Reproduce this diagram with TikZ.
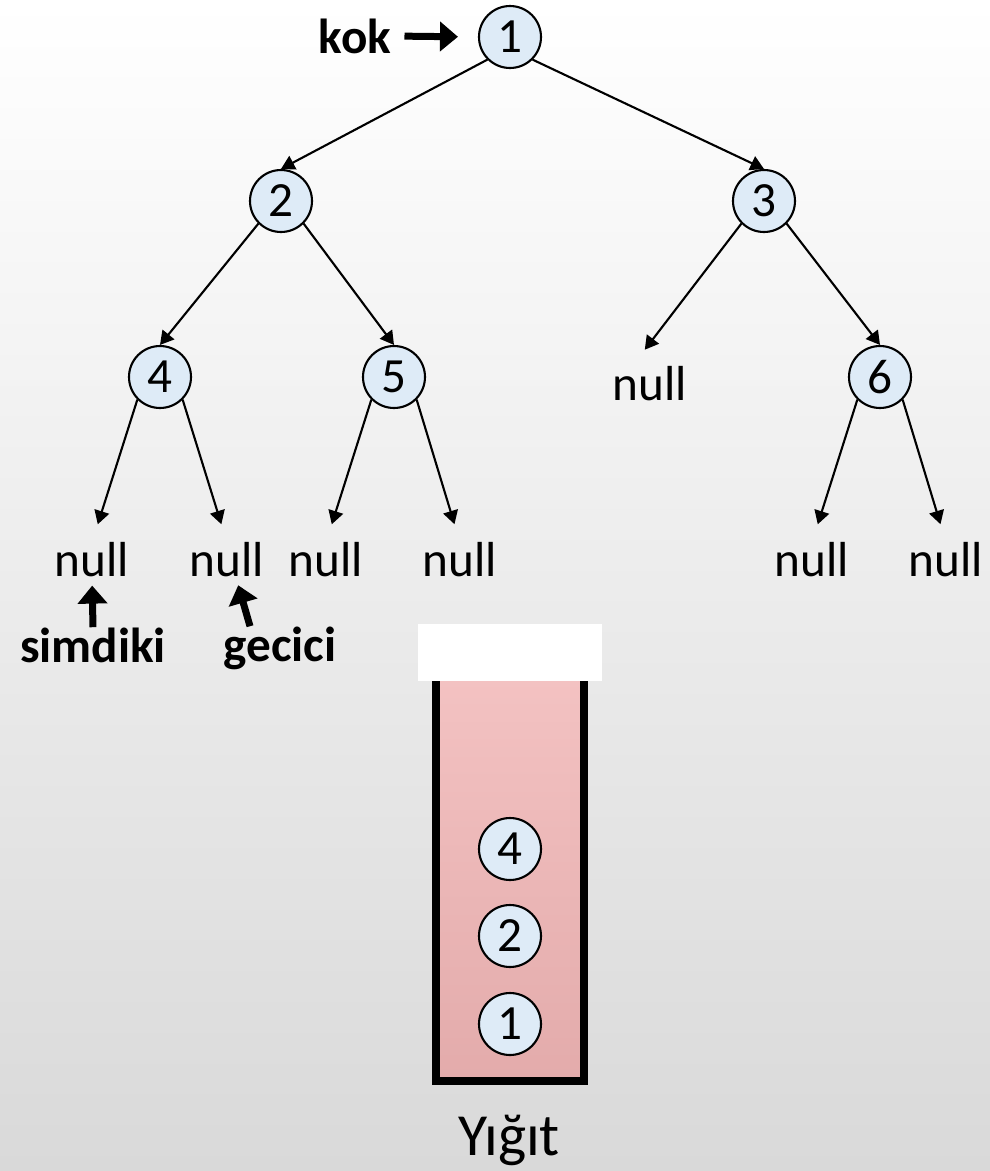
\documentclass[tikz,border=0pt]{standalone}
\usepackage{fontspec}
\setmainfont{Carlito}
\usepackage{tikz}
\usetikzlibrary{positioning,arrows.meta,calc}
\definecolor{nodec}{HTML}{DEEBF7}
\definecolor{stacktop}{HTML}{F4C3C3}
\definecolor{stackbot}{HTML}{E3ABAB}
\definecolor{bgbot}{HTML}{D9D9D9}
\newcommand{\bigfont}{\fontsize{28}{34}\selectfont}

\begin{document}
\begin{tikzpicture}[x=0.02cm,y=-0.02cm,
  treenode/.style={circle,draw=black,line width=1.2pt,fill=nodec,minimum size=1.24cm,inner sep=0pt,font=\bigfont},
  nulltext/.style={inner sep=0pt,font=\bigfont},
  ptrtext/.style={inner sep=0pt,font=\bigfont\bfseries},
  link/.style={-{Triangle[length=0.27cm,width=0.3cm]},line width=1.2pt},
  ptr/.style={-{Triangle[length=0.36cm,width=0.58cm]},line width=0.14cm}]
  \useasboundingbox (0,0) rectangle (990,1171);
  \shade[top color=white,bottom color=bgbot] (0,0) rectangle (990,1171);
  % tree
  \node[treenode] (n1) at (510,37) {1};
  \node[treenode] (n2) at (281,201) {2};
  \node[treenode] (n3) at (764,201) {3};
  \node[treenode] (n4) at (160,377) {4};
  \node[treenode] (n5) at (394,377) {5};
  \node[treenode] (n6) at (880,377) {6};
  \node[nulltext] (null4l) at (92,560) {null};
  \node[nulltext] (null4r) at (227,560) {null};
  \node[nulltext] (null5l) at (326,560) {null};
  \node[nulltext] (null5r) at (460,560) {null};
  \node[nulltext] (null3l) at (650,384) {null};
  \node[nulltext] (null6l) at (812,560) {null};
  \node[nulltext] (null6r) at (946,560) {null};
  \draw[link] (n1.225) -- (n2.north);
  \draw[link] (n1.315) -- (n3.north);
  \draw[link] (n2.225) -- (n4.north);
  \draw[link] (n2.315) -- (n5.north);
  \draw[link,shorten >=0.42cm] (n3.225) -- ([xshift=-0.36cm]null3l.north);
  \draw[link] (n3.315) -- (n6.north);
  \foreach \p/\l/\r in {n4/null4l/null4r,n5/null5l/null5r,n6/null6l/null6r} {
    \draw[link,shorten >=0.38cm] (\p.225) -- (\l.north);
    \draw[link,shorten >=0.38cm] (\p.315) -- (\r.north);
  }
  % pointers
  \node[ptrtext] (kok) at (355,36) {kok};
  \node[ptrtext] (simdiki) at (93,645) {simdiki};
  \node[ptrtext] (gecici) at (280,648) {gecici};
  \draw[ptr,shorten <=0.26cm,shorten >=0.4cm] (kok.east) -- (n1.west);
  \draw[ptr,shorten >=0.16cm] (simdiki.north) -- (null4l.south);
  \draw[ptr,shorten >=0.16cm] ([xshift=-0.6cm]gecici.north) -- ([xshift=0.18cm]null4r.south);
  % stack
  \shade[top color=stacktop,bottom color=stackbot] (436,660) rectangle (584,1081);
  \draw[line width=0.16cm] (436,660) -- (436,1081) -- (584,1081) -- (584,660);
  \fill[white] (418,624) rectangle (602,681);
  \node[treenode] (s4) at (510,849) {4};
  \node[treenode] (s2) at (510,936) {2};
  \node[treenode] (s1) at (510,1024) {1};
  \node[anchor=base,inner sep=0pt,font=\fontsize{34}{40}\selectfont] (yigit) at (509,1155) {Yığıt};
\end{tikzpicture}
\end{document}
